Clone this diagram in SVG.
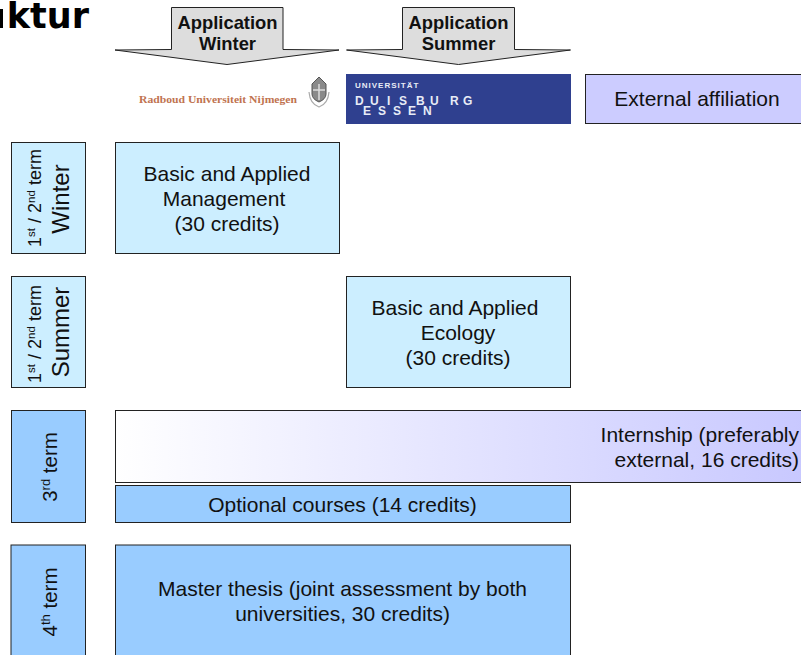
<svg xmlns="http://www.w3.org/2000/svg" width="801" height="655" viewBox="0 0 801 655">
<defs>
<linearGradient id="fade" x1="0" y1="0" x2="1" y2="0"><stop offset="0" stop-color="#ffffff"/><stop offset="1" stop-color="#c8c8ff"/></linearGradient>
</defs>
<style>
text{font-family:"Liberation Sans",Arial,sans-serif;fill:#111}
.box{stroke:#222;stroke-width:1}
.lt{fill:#cceeff}
.md{fill:#99ccff}
.t{font-size:21px;text-anchor:middle}
.r{font-size:18px;text-anchor:middle}
.w{font-size:24px;text-anchor:middle}
.v{font-size:20.500px;text-anchor:middle}
.b{font-size:18.400px;font-weight:bold;text-anchor:middle}
.arrow{fill:#dddddd;stroke:#222;stroke-width:1}
.logo{fill:#e8ecf6;font-weight:bold;font-size:12px}
</style>
<rect width="801" height="655" fill="#fff"/>
<rect x="0" y="9" width="3" height="19" fill="#000"/>
<text id="title" x="89" y="28" text-anchor="end" style="font-family:'DejaVu Sans',sans-serif;font-weight:bold;font-size:35px;fill:#000">ktur</text>
<g id="app-winter">
<polygon class="arrow" points="171.500,7.500 283,7.500 283,49.500 339,50 227,64.500 115,50 171.500,49.500"/>
<text class="b" x="227.500" y="29">Application</text><text class="b" x="227.500" y="50">Winter</text>
</g>
<g id="app-summer">
<polygon class="arrow" points="402.500,7.500 514.500,7.500 514.500,49.500 570.500,50 458.500,64.500 346.500,50 402.500,49.500"/>
<text class="b" x="458.500" y="29">Application</text><text class="b" x="458.500" y="50">Summer</text>
</g>
<g id="logo-radboud">
<text x="139" y="103" style="font-family:'Liberation Serif',serif;font-weight:bold;font-size:10.700px;fill:#bf7350" textLength="158" lengthAdjust="spacingAndGlyphs">Radboud Universiteit Nijmegen</text>
<path d="M319 77l7 7v10q0 5-7 8q-7-3-7-8V84z" fill="#8a8a8a" stroke="#555" stroke-width="1"/>
<path d="M319 84v16M313 90h12" stroke="#ddd" stroke-width="1.500" fill="none"/>
<path d="M309 92q1 12 10 15q9-3 10-15" fill="none" stroke="#aaa" stroke-width="1.200"/>
</g>
<g id="logo-due">
<rect x="346" y="74" width="225" height="50" fill="#2f408f"/>
<text class="logo" x="355" y="88" style="font-size:8px;letter-spacing:1px">UNIVERSITÄT</text>
<text class="logo" x="355 370 387 399 416 430 450 463" y="105">DUISBURG</text>
<text class="logo" x="363 378 393 408 423" y="115">ESSEN</text>
</g>
<g id="external">
<rect class="box" x="585.500" y="74.500" width="217" height="49" fill="#ccccff"/>
<text class="t" x="697" y="106">External affiliation</text>
</g>
<g id="term-winter">
<rect class="box lt" x="11.500" y="142.500" width="74" height="111"/>
<text class="r" transform="translate(41 198) rotate(-90)">1<tspan font-size="11.500" dy="-6">st</tspan><tspan dy="6"> / 2</tspan><tspan font-size="11.500" dy="-6">nd</tspan><tspan dy="6"> term</tspan></text>
<text class="w" transform="translate(68.500 199) rotate(-90)">Winter</text>
</g>
<g id="term-summer">
<rect class="box lt" x="11.500" y="276.500" width="74" height="111"/>
<text class="r" transform="translate(41 334) rotate(-90)">1<tspan font-size="11.500" dy="-6">st</tspan><tspan dy="6"> / 2</tspan><tspan font-size="11.500" dy="-6">nd</tspan><tspan dy="6"> term</tspan></text>
<text class="w" transform="translate(68.500 332) rotate(-90)">Summer</text>
</g>
<g id="term-3">
<rect class="box md" x="11.500" y="410.500" width="74" height="112"/>
<text class="v" transform="translate(57 467) rotate(-90)">3<tspan font-size="13" dy="-7">rd</tspan><tspan dy="7"> term</tspan></text>
</g>
<g id="term-4">
<rect class="box md" x="11" y="545" width="74.500" height="115"/>
<text class="v" transform="translate(57 602) rotate(-90)">4<tspan font-size="13" dy="-7">th</tspan><tspan dy="7"> term</tspan></text>
</g>
<g id="management">
<rect class="box lt" x="115.500" y="142.500" width="224" height="111"/>
<text class="t" x="227" y="181">Basic and Applied</text><text class="t" x="224" y="206">Management</text><text class="t" x="227" y="231">(30 credits)</text>
</g>
<g id="ecology">
<rect class="box lt" x="346.500" y="276.500" width="224" height="111"/>
<text class="t" x="455" y="315">Basic and Applied</text><text class="t" x="458" y="340">Ecology</text><text class="t" x="458" y="365">(30 credits)</text>
</g>
<g id="internship">
<rect class="box" x="115.500" y="410.500" width="690" height="72" fill="url(#fade)"/>
<text class="t" style="text-anchor:end" x="799" y="442">Internship (preferably</text><text class="t" style="text-anchor:end" x="799" y="467">external, 16 credits)</text>
</g>
<g id="optional">
<rect class="box md" x="115.500" y="485.500" width="455" height="37"/>
<text class="t" x="342.500" y="512">Optional courses (14 credits)</text>
</g>
<g id="thesis">
<rect class="box md" x="115.500" y="545" width="455" height="115"/>
<text class="t" x="342.500" y="596">Master thesis (joint assessment by both</text><text class="t" x="342.500" y="621">universities, 30 credits)</text>
</g>
<g id="connectors"></g>
</svg>
